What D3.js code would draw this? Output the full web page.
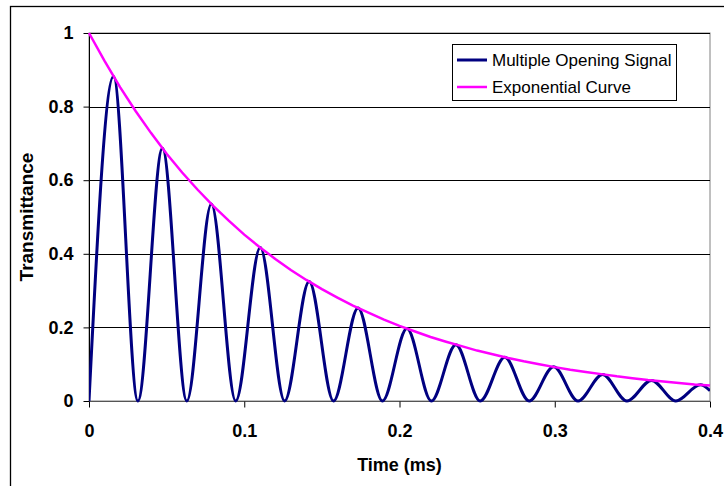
<!DOCTYPE html>
<html><head><meta charset="utf-8">
<script src="https://cdn.jsdelivr.net/npm/d3@7"></script>
<style>body{margin:0;background:#fff}svg{display:block}text{font-family:"Liberation Sans",Arial,sans-serif}</style>
</head><body><svg id="c" width="724" height="486"></svg>
<script>
// Multiple Opening Signal: read at zeros and peaks (time in ms)
const signalTime = [0,0.0158,0.0315,0.0473,0.063,0.0788,0.0945,0.1103,0.126,0.1418,0.1575,0.1733,0.189,0.2048,0.2205,0.2363,0.252,0.2678,0.2835,0.2993,0.315,0.3308,0.3465,0.3623,0.378,0.3938,0.4];
const signalValue = [0,0.882,0,0.687,0,0.535,0,0.417,0,0.325,0,0.253,0,0.197,0,0.153,0,0.119,0,0.093,0,0.072,0,0.056,0,0.044,0.028];
// Exponential Curve
const expTime = [0,0.01,0.02,0.03,0.04,0.05,0.06,0.07,0.08,0.09,0.1,0.11,0.12,0.13,0.14,0.15,0.16,0.17,0.18,0.19,0.2,0.21,0.22,0.23,0.24,0.25,0.26,0.27,0.28,0.29,0.3,0.31,0.32,0.33,0.34,0.35,0.36,0.37,0.38,0.39,0.4];
const expValue = [1,0.924,0.853,0.788,0.728,0.672,0.621,0.574,0.53,0.49,0.452,0.418,0.386,0.356,0.329,0.304,0.281,0.259,0.24,0.221,0.204,0.189,0.174,0.161,0.149,0.137,0.127,0.117,0.108,0.1,0.092,0.085,0.079,0.073,0.067,0.062,0.057,0.053,0.049,0.045,0.042];
const xTicks = [0,0.1,0.2,0.3,0.4];
const yTicks = [0,0.2,0.4,0.6,0.8,1];
const seriesNames = ["Multiple Opening Signal","Exponential Curve"];
const seriesColors = ["#000080","#FF00FF"];

const svg = d3.select("#c");
const L=89, R=710, T=33, B=401;
const x = d3.scaleLinear().domain([0,0.4]).range([L,R]);
const y = d3.scaleLinear().domain([0,1]).range([B,T]);

// outer chart border (right/bottom cut off)
svg.append("rect").attr("x",10.5).attr("y",6.5).attr("width",730).attr("height",500)
  .attr("fill","none").attr("stroke","#000").attr("stroke-width",1.3);

// plot area border
svg.append("rect").attr("x",L).attr("y",T).attr("width",R-L).attr("height",B-T)
  .attr("fill","none").attr("stroke","#808080").attr("stroke-width",1);

// gridlines
svg.append("g").selectAll("line").data(yTicks.filter(d=>d>0)).join("line")
  .attr("x1",L).attr("x2",R).attr("y1",d=>Math.round(y(d))+0.5).attr("y2",d=>Math.round(y(d))+0.5)
  .attr("stroke","#000").attr("stroke-width",1);

// y axis
const fmt = d=>d===0?"0":(d===1?"1":String(d));
const ya = svg.append("g").attr("transform",`translate(${L+0.5},0)`)
  .call(d3.axisLeft(y).tickValues(yTicks).tickFormat(fmt).tickSize(6).tickPadding(10));
ya.select(".domain").attr("stroke","#000").attr("d",`M0,${T}V${B}`);
ya.selectAll(".tick line").attr("stroke","#000");
ya.selectAll("text").attr("font-size",18).attr("font-weight","bold").attr("fill","#000")
  .attr("font-family","Liberation Sans, Arial, sans-serif");

// x axis
const xa = svg.append("g").attr("transform",`translate(0,${B+0.5})`)
  .call(d3.axisBottom(x).tickValues(xTicks).tickFormat(fmt).tickSize(6).tickPadding(17));
xa.select(".domain").attr("stroke","#555").attr("d",`M${L},0H${R}`);
xa.selectAll(".tick line").attr("stroke","#000");
xa.selectAll("text").attr("font-size",18).attr("font-weight","bold").attr("fill","#000")
  .attr("font-family","Liberation Sans, Arial, sans-serif");

// axis titles
svg.append("text").attr("x",(L+R)/2).attr("y",471).attr("text-anchor","middle")
  .attr("font-size",18).attr("font-weight","bold").text("Time (ms)");
svg.append("text").attr("transform",`translate(33,${(T+B)/2}) rotate(-90)`).attr("text-anchor","middle")
  .attr("font-size",19).attr("font-weight","bold").text("Transmittance");

// lines
const sig = signalTime.map((t,i)=>[t,signalValue[i]]);
const ex = expTime.map((t,i)=>[t,expValue[i]]);
svg.append("clipPath").attr("id","pc").append("rect").attr("x",L).attr("y",T-3).attr("width",R-L).attr("height",B-T+6);
svg.append("path").datum(sig).attr("clip-path","url(#pc)")
  .attr("d",d3.line().x(d=>x(d[0])).y(d=>y(d[1])).curve(d3.curveMonotoneX))
  .attr("fill","none").attr("stroke",seriesColors[0]).attr("stroke-width",3);
svg.append("path").datum(ex)
  .attr("d",d3.line().x(d=>x(d[0])).y(d=>y(d[1])))
  .attr("fill","none").attr("stroke",seriesColors[1]).attr("stroke-width",2.5);

// legend
const lg = svg.append("g");
lg.append("rect").attr("x",452.5).attr("y",44.5).attr("width",224).attr("height",56)
  .attr("fill","#fff").attr("stroke","#000").attr("stroke-width",1);
seriesNames.forEach((n,i)=>{
  const cy = 60 + i*27;
  lg.append("line").attr("x1",457).attr("x2",487).attr("y1",cy).attr("y2",cy)
    .attr("stroke",seriesColors[i]).attr("stroke-width",i===0?3:2.5);
  lg.append("text").attr("x",492).attr("y",cy).attr("dy","0.35em").attr("font-size",17).text(n);
});
</script></body></html>
